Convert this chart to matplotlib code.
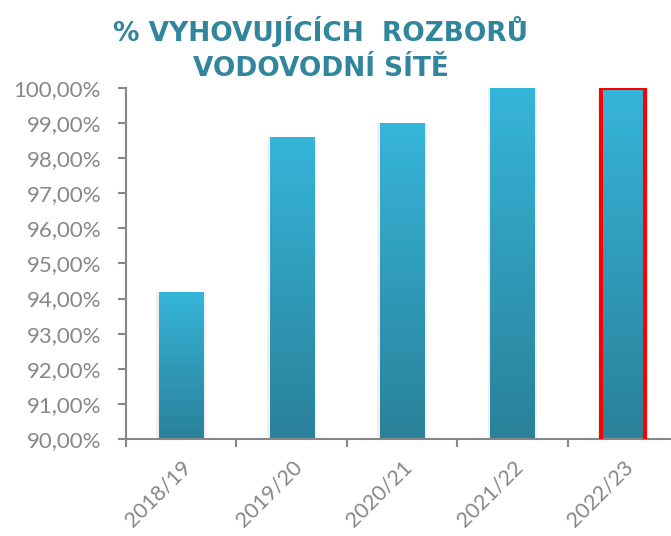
import matplotlib.pyplot as plt
import numpy as np
from matplotlib.colors import LinearSegmentedColormap
from matplotlib.ticker import FuncFormatter, MultipleLocator

seasons = ['2018/19', '2019/20', '2020/21', '2021/22', '2022/23']
compliant = [94.2, 98.6, 99.0, 100.0, 100.0]
highlight = '2022/23'
title = '% VYHOVUJÍCÍCH  ROZBORŮ\nVODOVODNÍ SÍTĚ'

grey = '#878787'
fade = LinearSegmentedColormap.from_list('fade', ['#2a8199', '#36b5da'])

fig = plt.figure(figsize=(6.71, 5.36), dpi=100)
ax = fig.add_axes([0.1878, 0.181, 0.8227, 0.655])

x = np.arange(len(seasons))
# soft shadow round the bars
ax.bar(x, compliant, width=0.45, color='#f0f0f0', zorder=0)
bars = ax.bar(x, compliant, width=0.4, color='none', zorder=2)
grad = np.linspace(0, 1, 256).reshape(-1, 1)
for b, s in zip(bars, seasons):
    bx, bw, top = b.get_x(), b.get_width(), b.get_height()
    im = ax.imshow(grad, cmap=fade, origin='lower', aspect='auto',
                   extent=(bx, bx + bw, 90, top), zorder=1)
    im.set_clip_path(b)
    if s == highlight:
        b.set_edgecolor('#ff0000')
        b.set_linewidth(2.9)
        b.set_zorder(3)

ax.set_xlim(-0.5, 4.5)
ax.set_ylim(90, 100)
ax.yaxis.set_major_locator(MultipleLocator(1))
ax.yaxis.set_major_formatter(FuncFormatter(lambda v, _: f'{v:.2f}'.replace('.', ',') + '%'))
ax.set_xticks(x)
ax.set_xticklabels(seasons, rotation=45, ha='right', rotation_mode='anchor')
ax.set_xticks(np.arange(-0.5, 5, 1), minor=True)
ax.tick_params(axis='x', which='major', length=0, pad=13, labelsize=15.5, labelcolor=grey)
ax.tick_params(axis='x', which='minor', length=6, width=1.5, color=grey)
ax.tick_params(axis='y', length=6, width=1.5, color=grey, pad=12, labelsize=16, labelcolor=grey)
for lab in ax.get_xticklabels() + ax.get_yticklabels():
    lab.set_fontfamily('Lato')

for side in ['top', 'right']:
    ax.spines[side].set_visible(False)
for side in ['left', 'bottom']:
    ax.spines[side].set_color(grey)
    ax.spines[side].set_linewidth(1.5)

fig.text(0.478, 0.9086, title, ha='center', va='center', ma='center',
         fontsize=19, fontweight='bold', color='#31859c', linespacing=1.44)

fig.savefig('out.png', dpi=100)
